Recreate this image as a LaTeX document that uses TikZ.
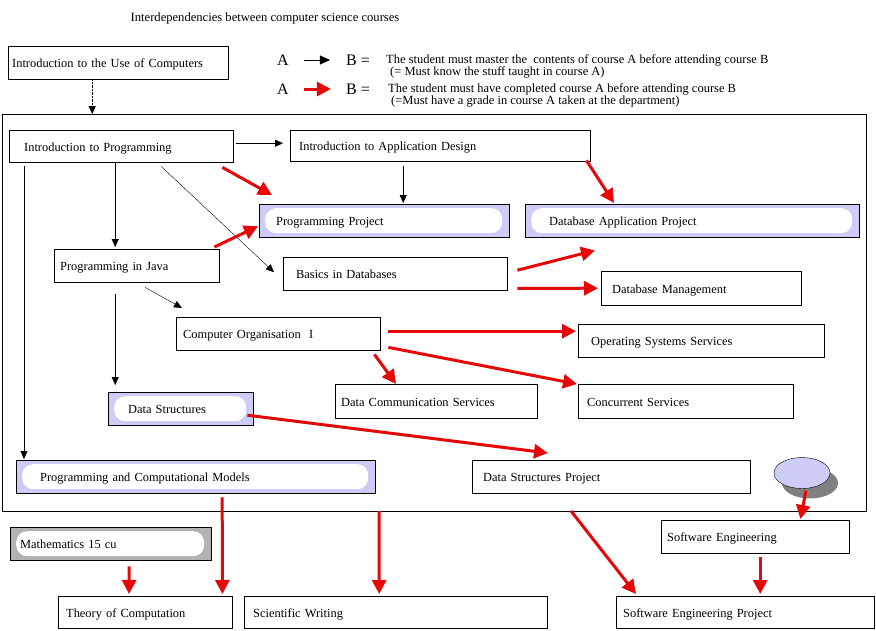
\documentclass[tikz,border=0pt]{standalone}
\usepackage{fontspec}
\setmainfont{Liberation Serif}
\usetikzlibrary{arrows.meta,shapes.geometric,shadows}
\definecolor{lavender}{RGB}{204,204,247}
\definecolor{mathgray}{RGB}{178,178,178}
\definecolor{gradered}{RGB}{230,8,8}
\begin{document}
\begin{tikzpicture}[x=1pt,y=-1pt,
  course/.style={draw, anchor=north west, align=left, inner ysep=0pt,
    text height=10pt, text depth=0pt, font=\fontsize{12.4}{14}\selectfont},
  cloudbox/.style={fill=#1, path picture={\fill[white, rounded corners=11pt]
    ([shift={(6pt,-4pt)}]path picture bounding box.north west) rectangle
    ([shift={(-7pt,4pt)}]path picture bounding box.south east);}},
  know/.style={-{Triangle[length=8pt,width=7pt]}},
  grade/.style={gradered, line width=3pt, -{Triangle[length=14pt,width=14pt]}},
  legend/.style={anchor=west, inner sep=0pt, font=\fontsize{12.5}{14}\selectfont},
  big/.style={inner sep=0pt, font=\fontsize{16}{18}\selectfont}]
\useasboundingbox (0,0) rectangle (876,630);
\node[inner sep=0pt, font=\fontsize{12.6}{14}\selectfont] (title) at (265,18) {Interdependencies between computer science courses};
\node[big] (la1) at (283,60) {A};
\node[big] (lb1) at (358,60) {B =};
\node[big] (la2) at (283,89) {A};
\node[big] (lb2) at (358,89) {B =};
\draw[-{Triangle[length=10pt,width=9pt]}] ([xshift=15]la1.east) -- ([xshift=-16]lb1.west);
\draw[grade] ([xshift=15]la2.east) -- ([xshift=-15]lb2.west);
\node[legend] (l1) at (386,60) {The student must master the\ \ contents of course A before attending course B};
\node[legend] (l2) at (390,72) {(= Must know the stuff taught in course A)};
\node[legend] (l3) at (388,89) {The student must have completed course A before attending course B};
\node[legend] (l4) at (391,102) {(=Must have a grade in course A taken at the department)};
\node[course, minimum width=220, minimum height=33, inner xsep=4, text width=212] (use) at (8,46) {Introduction to the Use of Computers};
\node[draw, anchor=north west, minimum width=864, minimum height=397, inner sep=0pt] (dept) at (2,114) {};
\coordinate (f1) at (379,511);
\coordinate (f2) at (571,511);
\node[course, minimum width=224, minimum height=32, inner xsep=15, text width=194] (ip) at (9,130) {Introduction to Programming};
\node[course, minimum width=300, minimum height=31, inner xsep=9, text width=282] (iad) at (290,130) {Introduction to Application Design};
\node[course, cloudbox=lavender, minimum width=250, minimum height=33, inner xsep=17, text width=216] (pp) at (259,204) {Programming Project};
\node[course, cloudbox=lavender, minimum width=334, minimum height=33, inner xsep=24, text width=286] (dap) at (525,204) {Database Application Project};
\node[course, minimum width=165, minimum height=33, inner xsep=6, text width=153] (java) at (54,249) {Programming in Java};
\node[course, minimum width=224, minimum height=33, inner xsep=13, text width=198] (bdb) at (283,257) {Basics in Databases};
\node[course, minimum width=200, minimum height=34, inner xsep=11, text width=178] (dbm) at (601,271) {Database Management};
\node[course, minimum width=204, minimum height=33, inner xsep=7, text width=190] (co) at (176,317) {Computer Organisation\ \ I};
\node[course, minimum width=246, minimum height=33, inner xsep=13, text width=220] (oss) at (578,324) {Operating Systems Services};
\node[course, minimum width=202, minimum height=34, inner xsep=6, text width=190] (dcs) at (335,384) {Data Communication Services};
\node[course, minimum width=215, minimum height=34, inner xsep=9, text width=197] (cs) at (578,384) {Concurrent Services};
\node[course, cloudbox=lavender, minimum width=145, minimum height=33, inner xsep=20, text width=105] (ds) at (108,392) {Data Structures};
\node[course, cloudbox=lavender, minimum width=359, minimum height=33, inner xsep=24, text width=311] (pcm) at (16,460) {Programming and Computational Models};
\node[course, minimum width=278, minimum height=33, inner xsep=11, text width=256] (dsp) at (472,460) {Data Structures Project};
\node[ellipse, draw, fill=lavender, minimum width=56, minimum height=31,
  drop shadow={shadow xshift=8pt, shadow yshift=-10pt, fill=gray, opacity=1}] (oval) at (802,473) {};
\node[course, cloudbox=mathgray, minimum width=201, minimum height=33, inner xsep=10, text width=181] (math) at (10,527) {Mathematics 15 cu};
\node[course, minimum width=188, minimum height=33, inner xsep=6, text width=176] (se) at (661,520) {Software Engineering};
\node[course, minimum width=174, minimum height=32, inner xsep=8, text width=158] (toc) at (58,596) {Theory of Computation};
\node[course, minimum width=303, minimum height=32, inner xsep=9, text width=285] (sw) at (244,596) {Scientific Writing};
\node[course, minimum width=258, minimum height=32, inner xsep=7, text width=244] (sep) at (616,596) {Software Engineering Project};
\draw[know, densely dotted] ([shift={(-26,1)}]use.south) -- ([xshift=-26]use.south |- dept.north);
\draw[know] ([shift={(3,-3)}]ip.east) -- ([shift={(-7,-2.5)}]iad.west);
\draw[know] ([shift={(-37,5)}]iad.south) -- ([shift={(19,-1)}]pp.north);
\draw[know] ([shift={(-6,0)}]ip.south) -- ([shift={(-21.5,-2)}]java.north);
\draw[know, thin] ([shift={(40,4)}]ip.south) -- ([shift={(-9,-1.5)}]bdb.west);
\draw[know] ([shift={(8.5,5)}]java.south) -- ([shift={(6,-9)}]co.north west);
\draw[know] ([shift={(-21.5,12)}]java.south) -- ([shift={(-65.5,-7)}]ds.north);
\draw[know] ([shift={(15,4)}]ip.south west) -- ([shift={(8,-1)}]pcm.north west);
\draw[grade] ([shift={(-11,5)}]ip.south east) -- ([shift={(13,-9)}]pp.north west);
\draw[grade] ([shift={(-5,-2)}]java.north east) -- ([shift={(-1,5.5)}]pp.west);
\draw[grade] ([shift={(-4,-1)}]iad.south east) -- ([shift={(89,-1)}]dap.north west);
\draw[grade] ([shift={(10,-3.5)}]bdb.east) -- ([shift={(70,13)}]dap.south west);
\draw[grade] ([shift={(10,-2)}]bdb.south east) -- ([shift={(-3,0)}]dbm.west);
\draw[grade] ([shift={(8,-2.5)}]co.east) -- ([shift={(-2,-9.5)}]oss.west);
\draw[grade] ([shift={(-6,4)}]co.south east) -- ([shift={(61,0)}]dcs.north west);
\draw[grade] ([shift={(8,-3)}]co.south east) -- ([shift={(-1,0)}]cs.north west);
\draw[grade] ([shift={(-6,6.5)}]ds.east) -- ([shift={(76,-7)}]dsp.north west);
\draw[grade] ([shift={(26.5,4)}]pcm.south) -- ([shift={(-10,-2)}]toc.north east);
\draw[grade] (f1) -- ([shift={(-16.5,-2)}]sw.north);
\draw[grade] (f2) -- ([shift={(20,-2)}]sep.north west);
\draw[grade] ([shift={(18.5,6)}]math.south) -- ([shift={(71,-2)}]toc.north west);
\draw[grade] ([shift={(4,2)}]oval.south) -- ([shift={(-49,-1)}]se.north east);
\draw[grade] ([shift={(5,4)}]se.south) -- ([shift={(15,-2)}]sep.north);
\end{tikzpicture}
\end{document}
